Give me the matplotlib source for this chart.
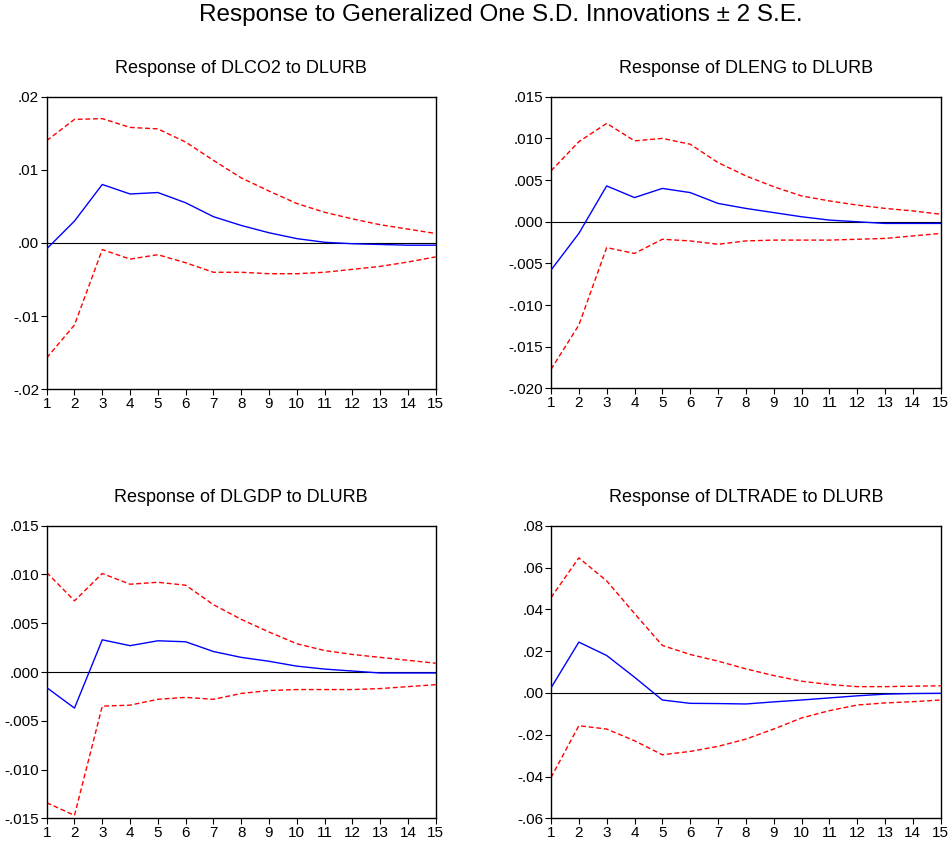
import matplotlib
matplotlib.use("Agg")
import matplotlib.pyplot as plt
from matplotlib.ticker import FuncFormatter

plt.rcParams['font.family'] = ['Liberation Sans', 'DejaVu Sans']

periods = list(range(1, 16))

titles = ["Response of DLCO2 to DLURB", "Response of DLENG to DLURB",
          "Response of DLGDP to DLURB", "Response of DLTRADE to DLURB"]

co2_resp = [-0.0008, 0.0030, 0.0080, 0.0067, 0.0069, 0.0055, 0.0036, 0.0024, 0.0014, 0.0006, 0.0001, -0.0001, -0.0002, -0.0003, -0.0003]
co2_up = [0.0140, 0.0169, 0.0170, 0.0158, 0.0156, 0.0138, 0.0113, 0.0089, 0.0071, 0.0054, 0.0042, 0.0033, 0.0025, 0.0019, 0.0013]
co2_lo = [-0.0157, -0.0112, -0.0009, -0.0022, -0.0016, -0.0027, -0.0040, -0.0040, -0.0042, -0.0042, -0.0040, -0.0036, -0.0032, -0.0026, -0.0019]

eng_resp = [-0.0058, -0.0014, 0.0043, 0.0029, 0.0040, 0.0035, 0.0022, 0.0016, 0.0011, 0.0006, 0.0002, 0.0000, -0.0002, -0.0002, -0.0002]
eng_up = [0.0061, 0.0096, 0.0118, 0.0097, 0.0100, 0.0093, 0.0071, 0.0055, 0.0042, 0.0031, 0.0025, 0.0020, 0.0016, 0.0013, 0.0009]
eng_lo = [-0.0177, -0.0124, -0.0031, -0.0038, -0.0021, -0.0023, -0.0027, -0.0023, -0.0022, -0.0022, -0.0022, -0.0021, -0.0020, -0.0017, -0.0014]

gdp_resp = [-0.0016, -0.0037, 0.0033, 0.0027, 0.0032, 0.0031, 0.0021, 0.0015, 0.0011, 0.0006, 0.0003, 0.0001, -0.0001, -0.0001, -0.0001]
gdp_up = [0.0102, 0.0073, 0.0101, 0.0090, 0.0092, 0.0089, 0.0069, 0.0054, 0.0041, 0.0029, 0.0022, 0.0018, 0.0015, 0.0012, 0.0009]
gdp_lo = [-0.0134, -0.0147, -0.0035, -0.0034, -0.0028, -0.0026, -0.0028, -0.0022, -0.0019, -0.0018, -0.0018, -0.0018, -0.0017, -0.0015, -0.0013]

trade_resp = [0.0024, 0.0243, 0.0179, 0.0075, -0.0034, -0.0050, -0.0051, -0.0053, -0.0043, -0.0034, -0.0024, -0.0014, -0.0006, -0.0003, -0.0002]
trade_up = [0.0456, 0.0646, 0.0536, 0.0380, 0.0227, 0.0184, 0.0152, 0.0115, 0.0083, 0.0056, 0.0040, 0.0030, 0.0030, 0.0032, 0.0034]
trade_lo = [-0.0405, -0.0157, -0.0173, -0.0229, -0.0296, -0.0280, -0.0256, -0.0221, -0.0173, -0.0120, -0.0085, -0.0058, -0.0048, -0.0042, -0.0034]

yticks_list = [
    [-0.02, -0.01, 0.00, 0.01, 0.02],
    [-0.020, -0.015, -0.010, -0.005, 0.000, 0.005, 0.010, 0.015],
    [-0.015, -0.010, -0.005, 0.000, 0.005, 0.010, 0.015],
    [-0.06, -0.04, -0.02, 0.00, 0.02, 0.04, 0.06, 0.08],
]
decimals = [2, 3, 3, 2]

series = [(co2_resp, co2_up, co2_lo), (eng_resp, eng_up, eng_lo),
          (gdp_resp, gdp_up, gdp_lo), (trade_resp, trade_up, trade_lo)]

W, H = 953, 848
fig = plt.figure(figsize=(W / 100, H / 100), dpi=100)

# axes boxes in pixels: left, top, right, bottom
boxes = [(46.7, 96.7, 435.7, 389.3), (551, 96.7, 940.7, 388.5),
         (46.7, 525.7, 435.7, 818.3), (551, 525.7, 940.7, 818.3)]

def make_fmt(d):
    def f(v, pos):
        if abs(v) < 1e-12:
            v = 0.0
        s = f"{v:.{d}f}"
        if s.startswith("0."):
            s = s[1:]
        elif s.startswith("-0."):
            s = "-" + s[2:]
        return s
    return FuncFormatter(f)

for i, (l, t, r, b) in enumerate(boxes):
    ax = fig.add_axes([l / W, 1 - b / H, (r - l) / W, (b - t) / H])
    resp, up, lo = series[i]
    ax.axhline(0, color='black', lw=0.8, zorder=1)
    ax.plot(periods, up, color='red', lw=1.0, ls=(0, (3.5, 2)), zorder=2)
    ax.plot(periods, lo, color='red', lw=1.0, ls=(0, (3.5, 2)), zorder=2)
    ax.plot(periods, resp, color='blue', lw=1.0, zorder=3)
    ax.set_xlim(1, 15)
    yt = yticks_list[i]
    ax.set_ylim(yt[0], yt[-1])
    ax.set_yticks(yt)
    ax.set_xticks(periods)
    ax.yaxis.set_major_formatter(make_fmt(decimals[i]))
    ax.tick_params(direction='out', length=4, width=0.8, labelsize=11, pad=1.5)
    for sp in ax.spines.values():
        sp.set_linewidth(1.0)
    ax.set_title(titles[i], fontsize=13, pad=17)

fig.text(501 / W, 1 - 15 / H, "Response to Generalized One S.D. Innovations \u00b1 2 S.E.",
         ha='center', va='center', fontsize=17.5)

fig.savefig("out.png", dpi=100)
